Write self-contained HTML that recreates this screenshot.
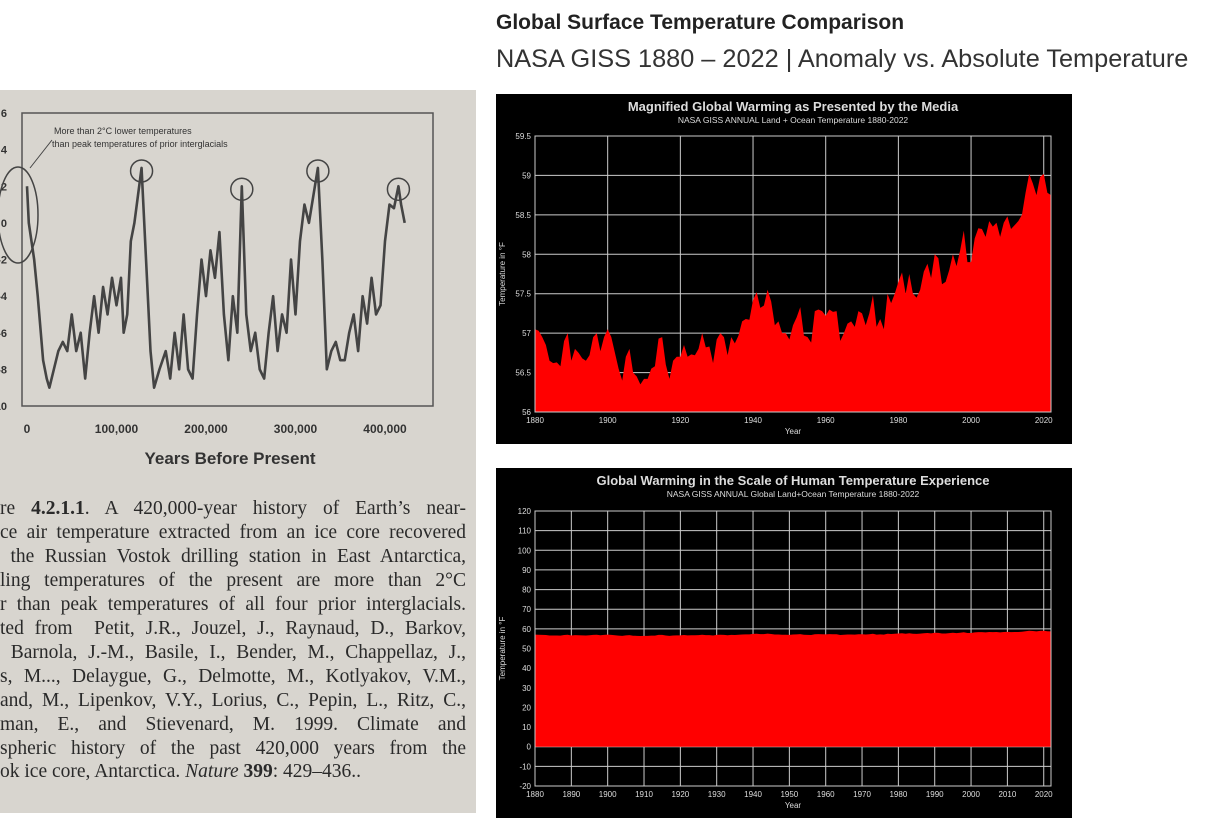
<!DOCTYPE html>
<html><head><meta charset="utf-8">
<style>
*{margin:0;padding:0;box-sizing:border-box}
body{width:1218px;height:834px;background:#fff;position:relative;overflow:hidden;font-family:"Liberation Sans",sans-serif}
.h1{position:absolute;left:496px;top:11px;font-size:21px;font-weight:bold;color:#222}
.h2{position:absolute;left:496px;top:45px;font-size:25.3px;color:#333}
#photo{position:absolute;left:0;top:90px;width:476px;height:723px;background:#d8d5cf}
.ln{position:absolute;left:0;width:466px;font-family:"Liberation Serif",serif;font-size:19.5px;color:#2a2a2a;white-space:nowrap;text-align:justify;text-align-last:justify;overflow:hidden}
svg text{font-family:"Liberation Sans",sans-serif}
</style></head><body>
<div class="h1">Global Surface Temperature Comparison</div>
<div class="h2">NASA GISS 1880 – 2022 | Anomaly vs. Absolute Temperature</div>

<div id="photo">
<svg id="vostok" width="476" height="400" style="position:absolute;left:0;top:0"></svg>
<div class="ln" style="top:408px">re <b>4.2.1.1</b>. A 420,000-year history of Earth’s near-</div>
<div class="ln" style="top:432px">ce air temperature extracted from an ice core recovered</div>
<div class="ln" style="top:456px">&nbsp;the Russian Vostok drilling station in East Antarctica,</div>
<div class="ln" style="top:480px">ling temperatures of the present are more than 2°C</div>
<div class="ln" style="top:504px">r than peak temperatures of all four prior interglacials.</div>
<div class="ln" style="top:528px">ted from &nbsp;Petit, J.R., Jouzel, J., Raynaud, D., Barkov,</div>
<div class="ln" style="top:552px">&nbsp;Barnola, J.-M., Basile, I., Bender, M., Chappellaz, J.,</div>
<div class="ln" style="top:576px">s, M..., Delaygue, G., Delmotte, M., Kotlyakov, V.M.,</div>
<div class="ln" style="top:600px">and, M., Lipenkov, V.Y., Lorius, C., Pepin, L., Ritz, C.,</div>
<div class="ln" style="top:624px">man, E., and Stievenard, M. 1999. Climate and</div>
<div class="ln" style="top:648px">spheric history of the past 420,000 years from the</div>
<div class="ln" style="top:671px;width:380px;text-align-last:left">ok ice core, Antarctica. <i>Nature</i> <b>399</b>: 429–436..</div>
</div>

<svg id="top" width="576" height="350" style="position:absolute;left:496px;top:94px;background:#000"></svg>
<svg id="bot" width="576" height="350" style="position:absolute;left:496px;top:468px;background:#000"></svg>

<script>
const years=[];for(let y=1880;y<=2022;y++)years.push(y);
const temps=[57.05,57.03,56.95,56.85,56.65,56.62,56.63,56.58,56.9,57.0,56.65,56.8,56.75,56.68,56.65,56.72,56.95,57.0,56.77,56.95,
57.05,56.95,56.75,56.55,56.4,56.7,56.8,56.5,56.45,56.35,56.42,56.42,56.55,56.58,56.93,56.95,56.6,56.42,56.65,56.7,
56.7,56.85,56.7,56.73,56.72,56.8,57.0,56.82,56.83,56.62,56.92,57.0,56.95,56.72,56.95,56.87,56.97,57.15,57.18,57.17,
57.42,57.52,57.32,57.35,57.55,57.4,57.1,57.15,57.0,57.0,56.92,57.1,57.2,57.33,56.97,56.95,56.88,57.28,57.3,57.28,
57.22,57.3,57.27,57.28,56.9,57.0,57.12,57.15,57.08,57.28,57.25,57.1,57.25,57.48,57.08,57.18,57.05,57.5,57.38,57.5,
57.65,57.77,57.5,57.75,57.5,57.45,57.55,57.78,57.88,57.7,58.0,57.95,57.62,57.65,57.8,58.0,57.85,58.05,58.3,57.9,
57.9,58.2,58.33,58.32,58.22,58.42,58.35,58.4,58.22,58.4,58.48,58.32,58.37,58.42,58.5,58.78,59.02,58.9,58.75,58.98,
59.02,58.78,58.75];
const topTicks=[56,56.5,57,57.5,58,58.5,59,59.5];
const topTickLabels=["56","56.5","57","57.5","58","58.5","59","59.5"];
const botTicks=[-20,-10,0,10,20,30,40,50,60,70,80,90,100,110,120];
const topYearTicks=[1880,1900,1920,1940,1960,1980,2000,2020];
const botYearTicks=[1880,1890,1900,1910,1920,1930,1940,1950,1960,1970,1980,1990,2000,2010,2020];
const vostokYears=[0,2,5,8,12,18,22,25,30,35,40,45,50,55,60,65,70,75,80,85,90,95,100,105,108,112,116,120,124,128,132,138,142,148,155,160,165,170,175,180,185,190,195,200,205,210,215,220,225,230,235,240,245,250,255,260,265,270,275,280,285,290,295,300,305,310,315,320,325,330,335,340,345,350,355,360,365,370,375,380,385,390,395,400,405,410,415,418,422];
const vostokTemps=[2,0,-1,-2,-4,-7.5,-8.5,-9,-8,-7,-6.5,-7,-5,-7,-6,-8.5,-6,-4,-6,-3.5,-5,-3,-4.5,-3,-6,-5,-1,0,1.5,3,-1,-7,-9,-8,-7,-8.5,-6,-8,-5,-8,-8.5,-5,-2,-4,-1.5,-3,-0.5,-5,-7.5,-4,-6,2,-5,-7,-6,-8,-8.5,-6,-4,-7,-5,-6,-2,-5,-1,1,0,1.5,3,-2,-8,-7,-6.5,-7.5,-7.5,-6,-5,-7,-4,-5.5,-3,-5,-4.5,-1,1,0.8,2,1,0];
const vTicks=[6,4,2,0,-2,-4,-6,-8,-10];
const vXTicks=[0,100000,200000,300000,400000];
const vXLabels=["0","100,000","200,000","300,000","400,000"];
const NS="http://www.w3.org/2000/svg";
function mk(p,t,a,txt){const e=document.createElementNS(NS,t);for(const k in a)e.setAttribute(k,a[k]);if(txt!==undefined)e.textContent=txt;p.appendChild(e);return e;}

function chart(id,L,R,T,B,ymin,ymax,yt,yl,xt,title,sub){
  const s=document.getElementById(id);
  const x=v=>L+(v-1880)/(2022-1880)*(R-L);
  const y=v=>B-(v-ymin)/(ymax-ymin)*(B-T);
  let t=mk(s,'text',{x:(L+R)/2,y:17,'text-anchor':'middle',fill:'#ddd','font-size':13,'font-weight':'bold'},title);
  
  t=mk(s,'text',{x:(L+R)/2,y:29,'text-anchor':'middle',fill:'#ddd','font-size':8.5},sub);
  
  yt.forEach((v,i)=>{
    const g=mk(s,'line',{x1:L,x2:R,y1:y(v),y2:y(v),stroke:'#ccc','stroke-width':1});
    
    const l=mk(s,'text',{x:L-4,y:y(v)+3,'text-anchor':'end',fill:'#ddd','font-size':8},yl[i]);
    
  });
  xt.forEach(v=>{
    const g=mk(s,'line',{x1:x(v),x2:x(v),y1:T,y2:B,stroke:'#ccc','stroke-width':1});
    
    const l=mk(s,'text',{x:x(v),y:B+11,'text-anchor':'middle',fill:'#ddd','font-size':8},String(v));
    
  });
  const base=ymin>0?ymin:0;
  let d=`M${x(years[0])},${y(base)}`;
  years.forEach((yr,i)=>{d+=`L${x(yr)},${y(temps[i])}`});
  d+=`L${x(years[years.length-1])},${y(base)}Z`;
  const a=mk(s,'path',{d:d,fill:'#ff0000'});
  
  const f=mk(s,'rect',{x:L,y:T,width:R-L,height:B-T,fill:'none',stroke:'#ccc','stroke-width':1});
  
  t=mk(s,'text',{x:(L+R)/2,y:B+22,'text-anchor':'middle',fill:'#ddd','font-size':8},'Year');
  
  t=mk(s,'text',{x:0,y:0,transform:`translate(9,${(T+B)/2}) rotate(-90)`,'text-anchor':'middle',fill:'#ddd','font-size':8},'Temperature in °F');
  
}
chart('top',39,555,42,318,56,59.5,topTicks,topTickLabels,topYearTicks,'Magnified Global Warming as Presented by the Media','NASA GISS ANNUAL Land + Ocean Temperature 1880-2022');
chart('bot',39,555,43,318,-20,120,botTicks,botTicks.map(String),botYearTicks,'Global Warming in the Scale of Human Temperature Experience','NASA GISS ANNUAL Global Land+Ocean Temperature 1880-2022');

(function(){
  const s=document.getElementById('vostok');
  const L=22,R=433,T=23,B=316;
  const x=v=>27+v/400000*358;
  const y=v=>B-(v+10)/16*(B-T);
  const f=mk(s,'rect',{x:L,y:T,width:R-L,height:B-T,fill:'none',stroke:'#555','stroke-width':1.5});
  
  vTicks.forEach(v=>{
    const l=mk(s,'text',{x:7,y:y(v)+4,'text-anchor':'end',fill:'#333','font-size':11,'font-weight':'bold'},String(v));
    
  });
  vXTicks.forEach((v,i)=>{
    const l=mk(s,'text',{x:x(v),y:343,'text-anchor':'middle',fill:'#333','font-size':12,'font-weight':'bold'},vXLabels[i]);
    
  });
  let d='';
  vostokYears.forEach((yr,i)=>{d+=(i?'L':'M')+x(yr*1000)+','+y(vostokTemps[i])});
  const p=mk(s,'path',{d:d,fill:'none',stroke:'#444','stroke-width':2.6,'stroke-linejoin':'round'});
  
  [128,240,325,415].forEach(k=>{
    const i=vostokYears.indexOf(k);
    const c=mk(s,'circle',{cx:x(k*1000),cy:y(vostokTemps[i])+3,r:11,fill:'none',stroke:'#444','stroke-width':1.5});
    
  });
  const e=mk(s,'ellipse',{cx:18,cy:125,rx:20,ry:48,fill:'none',stroke:'#444','stroke-width':1.5});
  
  mk(s,'line',{x1:30,y1:78,x2:52,y2:50,stroke:'#444','stroke-width':1});
  let t=mk(s,'text',{x:54,y:44,fill:'#333','font-size':9},'More than 2°C lower temperatures');
  
  t=mk(s,'text',{x:52,y:57,fill:'#333','font-size':9},'than peak temperatures of prior interglacials');
  
  t=mk(s,'text',{x:230,y:374,'text-anchor':'middle',fill:'#333','font-size':17,'font-weight':'bold'},'Years Before Present');
  
})();
</script>
</body></html>
